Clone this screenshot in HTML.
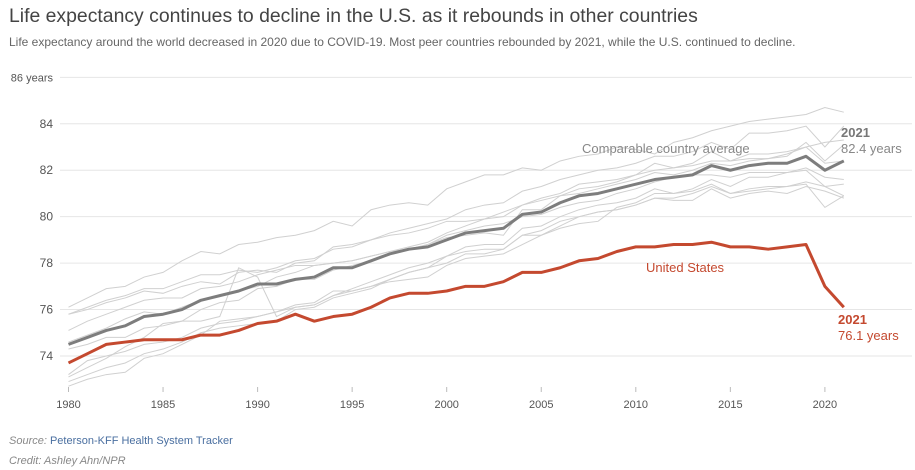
<!DOCTYPE html>
<html><head><meta charset="utf-8"><style>
body{margin:0;background:#fff;width:915px;height:470px;overflow:hidden;font-family:"Liberation Sans",sans-serif}
#title{position:absolute;left:9px;top:5px;font-size:19.4px;color:#444}
#sub{position:absolute;left:9px;top:35px;font-size:12px;color:#666}
.foot{position:absolute;left:9px;font-size:11px;font-style:italic;color:#888}
.foot span{color:#4a6fa0;font-style:normal}
</style></head><body>
<div id="title">Life expectancy continues to decline in the U.S. as it rebounds in other countries</div>
<div id="sub">Life expectancy around the world decreased in 2020 due to COVID-19. Most peer countries rebounded by 2021, while the U.S. continued to decline.</div>
<svg id="chart" width="915" height="470" style="position:absolute;left:0;top:0"></svg>
<div class="foot" style="top:435px">Source: <span>Peterson-KFF Health System Tracker</span></div>
<div class="foot" style="top:455px">Credit: Ashley Ahn/NPR</div>
<script>
const years=[];for(let y=1980;y<=2021;y++)years.push(y);
const xTicks=[1980,1985,1990,1995,2000,2005,2010,2015,2020];
const yTicks=[74,76,78,80,82,84,86];
const usValues=[73.7,74.1,74.5,74.6,74.7,74.7,74.7,74.9,74.9,75.1,75.4,75.5,75.8,75.5,75.7,75.8,76.1,76.5,76.7,76.7,76.8,77.0,77.0,77.2,77.6,77.6,77.8,78.1,78.2,78.5,78.7,78.7,78.8,78.8,78.9,78.7,78.7,78.6,78.7,78.8,77.0,76.1];
const avgValues=[74.5,74.8,75.1,75.3,75.7,75.8,76.0,76.4,76.6,76.8,77.1,77.1,77.3,77.4,77.8,77.8,78.1,78.4,78.6,78.7,79.0,79.3,79.4,79.5,80.1,80.2,80.6,80.9,81.0,81.2,81.4,81.6,81.7,81.8,82.2,82.0,82.2,82.3,82.3,82.6,82.0,82.4];
const c1=[76.1,76.5,76.9,77.0,77.4,77.6,78.1,78.5,78.4,78.8,78.9,79.1,79.2,79.4,79.8,79.6,80.3,80.5,80.6,80.5,81.2,81.5,81.8,81.8,82.1,82.0,82.4,82.6,82.7,83.0,82.9,82.7,83.2,83.4,83.7,83.9,84.1,84.2,84.3,84.4,84.7,84.5];
const c2=[75.8,76.1,76.4,76.6,76.9,76.9,77.2,77.5,77.5,77.7,77.6,77.8,78.1,78.2,78.6,78.7,79.0,79.3,79.5,79.7,79.9,80.3,80.5,80.6,81.1,81.3,81.6,81.8,82.0,82.1,82.3,82.6,82.6,82.8,83.2,82.9,83.6,83.6,83.7,83.9,83.0,83.9];
const c3=[74.6,74.9,75.2,75.6,75.9,75.8,76.1,76.4,76.6,76.8,77.0,77.4,77.6,77.9,78.0,78.1,78.3,78.5,78.7,78.9,79.3,79.6,79.9,80.0,80.5,80.8,81.0,81.4,81.5,81.6,81.8,82.0,82.1,82.2,82.4,82.4,82.5,82.5,82.7,83.0,83.2,83.3];
const c4=[75.8,76.0,76.3,76.5,76.8,76.7,77.0,77.2,77.1,77.6,77.7,77.6,78.0,78.1,78.7,78.8,79.0,79.2,79.3,79.5,79.8,79.8,79.9,80.2,80.5,80.7,80.9,81.0,81.2,81.4,81.6,81.9,81.8,82.0,82.3,82.2,82.4,82.5,82.6,83.2,82.4,83.1];
const c5=[75.1,75.5,75.8,76.1,76.4,76.5,76.5,76.9,77.0,77.2,77.5,77.7,77.9,77.9,78.0,78.1,78.3,78.5,78.6,78.8,79.2,79.4,79.6,79.7,80.0,80.1,80.4,80.6,80.7,81.0,81.2,81.5,81.7,81.8,81.8,81.7,81.9,81.9,81.9,82.1,81.7,81.6];
const c6=[74.3,74.5,74.8,74.8,75.2,75.3,75.5,76.0,76.3,76.4,76.9,77.0,77.3,77.3,77.7,77.9,78.1,78.4,78.6,78.8,79.1,79.2,79.3,79.2,80.3,80.3,80.9,81.2,81.3,81.5,81.8,82.3,82.1,82.3,82.8,82.4,82.7,82.7,82.8,83.0,82.3,82.4];
const c7=[72.9,73.2,73.5,73.7,74.1,74.3,74.6,75.0,75.2,75.3,75.4,75.5,76.0,76.1,76.5,76.7,76.9,77.3,77.6,77.8,78.3,78.5,78.6,78.6,79.2,79.4,79.8,80.0,80.2,80.3,80.5,80.8,80.7,80.7,81.2,80.8,81.0,81.1,81.0,81.3,81.1,80.8];
const c8=[73.2,73.8,74.0,74.2,74.5,74.6,74.8,75.2,75.4,75.5,75.7,75.9,76.2,76.3,76.8,76.8,77.0,77.2,77.3,77.4,77.9,78.2,78.3,78.4,78.8,79.2,79.5,79.7,79.8,80.4,80.6,81.0,81.0,81.1,81.4,81.0,81.2,81.3,81.3,81.4,80.4,80.9];
const c9=[72.7,73.0,73.2,73.3,73.9,74.1,74.5,74.9,75.5,75.6,75.7,75.9,76.1,76.2,76.6,76.9,77.2,77.5,77.8,78.0,78.3,78.7,78.8,78.8,79.5,79.6,80.0,80.3,80.5,80.6,80.8,81.2,81.0,81.2,81.6,81.3,81.7,81.7,81.9,82.0,81.3,81.4];
const c10=[73.1,73.5,73.9,74.4,74.8,75.4,75.5,75.5,75.7,77.8,77.4,75.7,76.1,76.2,76.6,76.8,77.0,77.3,77.6,77.8,78.0,78.4,78.4,78.6,79.2,79.2,79.6,80.0,80.2,80.3,80.5,80.8,80.8,81.0,81.3,81.0,81.1,81.2,81.3,81.5,81.3,80.9];
const countries=[c1,c2,c3,c4,c5,c6,c7,c8,c9,c10];

const NS="http://www.w3.org/2000/svg";
const svg=document.getElementById('chart');
const X=y=>68.5+(y-1980)*18.91;
const Y=v=>356-(v-74)*23.22;
function mk(t,a,p){const e=document.createElementNS(NS,t);for(const k in a)e.setAttribute(k,a[k]);(p||svg).appendChild(e);return e;}
yTicks.forEach(v=>{
  const g=mk('line',{x1:60,x2:912,y1:Y(v),y2:Y(v),stroke:'#e6e6e6','stroke-width':1});
  
  
  const t=mk('text',{x:53,y:Y(v)+4,'text-anchor':'end','font-size':v===86?11:12,fill:'#555'});
  t.textContent=v===86?'86 years':String(v);
  
  
});
xTicks.forEach(yr=>{
  const l=mk('line',{x1:X(yr),x2:X(yr),y1:387,y2:392,stroke:'#bbb'});
  
  
  const t=mk('text',{x:X(yr),y:408,'text-anchor':'middle','font-size':11,fill:'#555'});
  t.textContent=yr;
  
  
});
const pts=arr=>arr.map((v,i)=>X(years[i])+','+Y(v)).join(' ');
countries.forEach(c=>{
  const p=mk('polyline',{points:pts(c),fill:'none',stroke:'#d0d0d0','stroke-width':1});
  
  
});
const a=mk('polyline',{points:pts(avgValues),fill:'none',stroke:'#7d7d7d','stroke-width':3,'stroke-linejoin':'round'});


const u=mk('polyline',{points:pts(usValues),fill:'none',stroke:'#c4492f','stroke-width':3,'stroke-linejoin':'round'});


function lab(x,y,txt,col,bold,name){const t=mk('text',{x:x,y:y,'font-size':13,fill:col,'font-weight':bold?'bold':'normal'});t.textContent=txt;

}
lab(582,153,'Comparable country average','#888',false,'average-label');
lab(841,137,'2021','#777',true,'average-year-label');
lab(841,153,'82.4 years','#888',false,'average-value-label');
lab(646,272,'United States','#c4492f',false,'us-label');
lab(838,324,'2021','#c4492f',true,'us-year-label');
lab(838,340,'76.1 years','#c4492f',false,'us-value-label');
</script>
</body></html>
